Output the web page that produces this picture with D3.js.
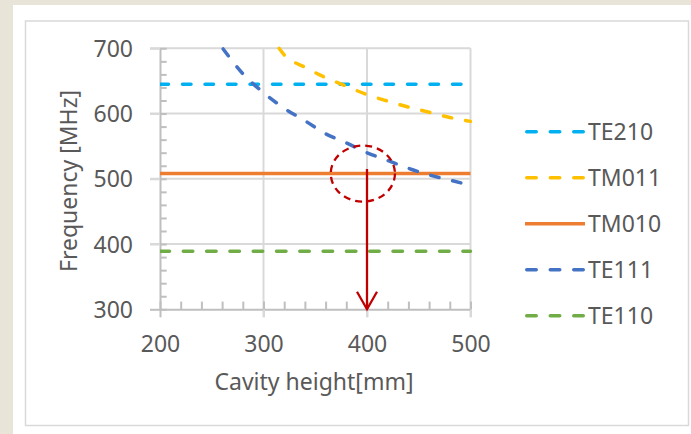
<!DOCTYPE html>
<html>
<head>
<meta charset="utf-8">
<script src="https://cdn.jsdelivr.net/npm/d3@7"></script>
<style>
  body { margin: 0; background: #e8e4d7; }
  svg { display: block; font-family: "Noto Sans", sans-serif; }
</style>
</head>
<body>
<div id="app"></div>
<script>
// data
const modeNames = ["TE210", "TM011", "TM010", "TE111", "TE110"]
const modeColors = ["#00b0f0", "#ffc000", "#ed7d31", "#4472c4", "#70ad47"]

const flatHeights = [200, 500]
const te210Freq = [645, 645]
const tm010Freq = [508, 508]
const te110Freq = [389, 389]

const tm011Heights = [315, 320, 340, 360, 380, 400, 420, 440, 460, 480, 500]
const tm011Freq = [700, 690, 671, 655, 642, 629, 619, 610, 602, 594, 588]

const te111Heights = [261, 280, 300, 320, 340, 360, 380, 400, 420, 440, 460, 480, 500]
const te111Freq = [699, 661, 632, 608, 589, 569, 555, 540, 528, 516, 506, 498, 490]

const xTicks = [200, 300, 400, 500]
const yTicks = [300, 400, 500, 600, 700]

// annotation: chosen height and the circled crossing
const markHeight = 400
const markTop = 515
const ringCenter = [396, 508]
const ringRadius = [31, 43]

//#region dimensions
const width = 691
const height = 434
const plot = { left: 160, right: 470.5, top: 48.3, bottom: 309.3 }
const textColor = "#595959"
const fontSize = 23
//#endregion

const svg = d3.select("#app")
  .append("svg")
    .attr("width", width)
    .attr("height", height)

svg.append("rect")
    .attr("x", 13).attr("y", 5)
    .attr("width", width - 13).attr("height", height - 5)
    .attr("fill", "#fff")

svg.append("rect")
    .attr("x", 25.5).attr("y", 21)
    .attr("width", 663).attr("height", 404.5)
    .attr("fill", "#fff")
    .attr("stroke", "#d9d9d9")
    .attr("stroke-width", 1.5)

//#region scales
const xScale = d3.scaleLinear()
  .domain([200, 500])
  .range([plot.left, plot.right])

const yScale = d3.scaleLinear()
  .domain([300, 700])
  .range([plot.bottom, plot.top])
//#endregion

//#region grid and axes
const grid = svg.append("g")
grid.selectAll(".hgrid")
  .data(yTicks.slice(1))
  .join("line")
    .attr("x1", plot.left - 10)
    .attr("x2", plot.right)
    .attr("y1", d => yScale(d))
    .attr("y2", d => yScale(d))
    .attr("stroke", "#d9d9d9")
    .attr("stroke-width", 2)
grid.selectAll(".vgrid")
  .data(xTicks.slice(1))
  .join("line")
    .attr("x1", d => xScale(d))
    .attr("x2", d => xScale(d))
    .attr("y1", plot.top)
    .attr("y2", plot.bottom + 8)
    .attr("stroke", "#d9d9d9")
    .attr("stroke-width", 2)

const yAxis = svg.append("g")
    .attr("transform", `translate(${plot.left},0)`)
    .call(d3.axisLeft(yScale).tickValues(yTicks).tickSize(10).tickPadding(17).tickSizeOuter(0))
const yMinor = svg.append("g")
    .attr("transform", `translate(${plot.left},0)`)
    .call(d3.axisLeft(yScale).ticks(20).tickSize(-6.7).tickFormat(""))

const xAxis = svg.append("g")
    .attr("transform", `translate(0,${plot.bottom})`)
    .call(d3.axisBottom(xScale).tickValues(xTicks).tickSize(8).tickPadding(18).tickSizeOuter(0))
const xMinor = svg.append("g")
    .attr("transform", `translate(0,${plot.bottom})`)
    .call(d3.axisBottom(xScale).ticks(15).tickSize(-7.7).tickFormat(""))

for (const ax of [yAxis, yMinor, xAxis, xMinor]) {
  ax.select(".domain").attr("stroke", "#bfbfbf").attr("stroke-width", 2)
  ax.selectAll(".tick line").attr("stroke", "#bfbfbf").attr("stroke-width", 2)
  ax.selectAll("text")
    .attr("fill", textColor)
    .style("font-size", fontSize + "px")
    .style("font-family", "'Noto Sans', sans-serif")
}
yMinor.select(".domain").remove()
xMinor.select(".domain").remove()
yAxis.selectAll("text").attr("dy", "0.35em")
yAxis.selectAll(".tick line").attr("stroke", d => d === 300 ? "#bfbfbf" : "#d9d9d9")
xAxis.selectAll(".tick line").attr("stroke", d => d === 200 ? "#bfbfbf" : "#d9d9d9")

svg.append("text")
    .attr("x", 314)
    .attr("y", 390)
    .attr("text-anchor", "middle")
    .attr("fill", textColor)
    .style("font-size", fontSize + "px")
    .text("Cavity height[mm]")

svg.append("text")
    .attr("transform", "translate(77,181) rotate(-90)")
    .attr("text-anchor", "middle")
    .attr("fill", textColor)
    .style("font-size", fontSize + "px")
    .text("Frequency [MHz]")
//#endregion

//#region series
const series = [
  { name: modeNames[0], color: modeColors[0], dash: "8.5,14", xs: flatHeights, ys: te210Freq },
  { name: modeNames[1], color: modeColors[1], dash: "8.5,14", xs: tm011Heights, ys: tm011Freq },
  { name: modeNames[2], color: modeColors[2], dash: null, xs: flatHeights, ys: tm010Freq },
  { name: modeNames[3], color: modeColors[3], dash: "8.5,14", xs: te111Heights, ys: te111Freq },
  { name: modeNames[4], color: modeColors[4], dash: "9.5,13.8", xs: flatHeights, ys: te110Freq },
]

svg.append("clipPath")
    .attr("id", "plot-clip")
  .append("rect")
    .attr("x", plot.left)
    .attr("y", plot.top - 3)
    .attr("width", plot.right - plot.left + 2)
    .attr("height", plot.bottom - plot.top + 3)

const lineGenerator = d3.line()
  .x(d => xScale(d[0]))
  .y(d => yScale(d[1]))
  .curve(d3.curveMonotoneX)

svg.append("g")
    .attr("clip-path", "url(#plot-clip)")
  .selectAll("path")
  .data(series)
  .join("path")
    .attr("d", s => lineGenerator(d3.zip(s.xs, s.ys)))
    .attr("fill", "none")
    .attr("stroke", s => s.color)
    .attr("stroke-width", 3.5)
    .attr("stroke-linecap", s => s.dash ? "round" : "butt")
    .attr("stroke-dasharray", s => s.dash)
//#endregion

//#region annotation
const red = "#c00000"
svg.append("ellipse")
    .attr("cx", xScale(ringCenter[0]))
    .attr("cy", yScale(ringCenter[1]))
    .attr("rx", xScale(ringCenter[0] + ringRadius[0]) - xScale(ringCenter[0]))
    .attr("ry", yScale(ringCenter[1]) - yScale(ringCenter[1] + ringRadius[1]))
    .attr("fill", "none")
    .attr("stroke", red)
    .attr("stroke-width", 2.3)
    .attr("stroke-dasharray", "7,5")

const arrowX = xScale(markHeight)
const arrowTip = yScale(300)
svg.append("line")
    .attr("x1", arrowX).attr("x2", arrowX)
    .attr("y1", yScale(markTop)).attr("y2", arrowTip)
    .attr("stroke", red)
    .attr("stroke-width", 2.3)
svg.append("path")
    .attr("d", `M${arrowX - 10},${arrowTip - 17.5} L${arrowX},${arrowTip} L${arrowX + 10},${arrowTip - 17.5}`)
    .attr("fill", "none")
    .attr("stroke", red)
    .attr("stroke-width", 2.3)
//#endregion

//#region legend
const legend = svg.append("g")
const legendItems = legend.selectAll("g")
  .data(series)
  .join("g")
    .attr("transform", (d, i) => `translate(525,${131.7 + i * 46})`)

legendItems.append("line")
    .attr("x1", d => d.dash ? 1.75 : 0)
    .attr("x2", d => d.dash ? 58.25 : 60)
    .attr("stroke", d => d.color)
    .attr("stroke-width", 3.5)
    .attr("stroke-linecap", d => d.dash ? "round" : "butt")
    .attr("stroke-dasharray", d => d.dash ? "9.5,14" : null)

legendItems.append("text")
    .attr("x", 63)
    .attr("y", 8.2)
    .attr("fill", textColor)
    .style("font-size", fontSize + "px")
    .text(d => d.name)
//#endregion
</script>
</body>
</html>
